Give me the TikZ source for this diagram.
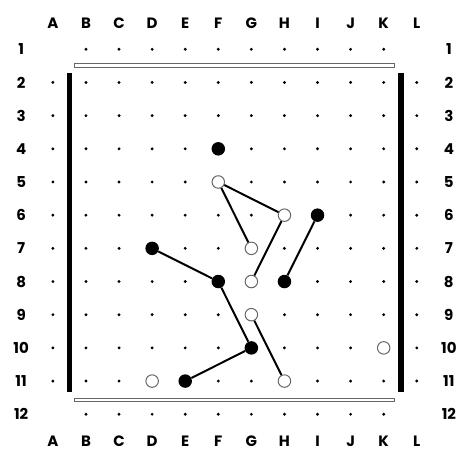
\documentclass[tikz,border=0pt]{standalone}
\usepackage{fontspec}
\newfontfamily\boardfont{Poppins}
\usepackage{tikz}

\begin{document}
\begin{tikzpicture}[x=33.08pt, y=-33.18pt,
    blackstone/.style={circle, fill=black, inner sep=0pt, minimum size=13.5pt},
    whitestone/.style={circle, fill=white, draw=black!60, line width=1pt, inner sep=0pt, minimum size=12.5pt},
    coordlabel/.style={inner sep=0pt, font=\boardfont\bfseries\fontsize{15}{17}\selectfont},
    edgeline/.style={draw=black, line width=2pt},
    rail/.style={draw=black!60, fill=white, line width=1.1pt}]
    \useasboundingbox (-0.599,-0.485) rectangle (13.428,13.077);
    % column letters and row numbers
    \foreach \l [count=\c] in {A,B,C,D,E,F,G,H,I,J,K,L} {
      \node[coordlabel] (top\l) at (\c,0.217) {\l};
      \node[coordlabel] (bot\l) at (\c,12.8) {\l};
    }
    \foreach \r in {1,...,12} {
      \node[coordlabel] (left\r) at (0.04,\r) {\r};
      \node[coordlabel] (right\r) at (12.97,\r) {\r};
    }
    % grid points
    \foreach \r in {2,...,11}
      \foreach \c in {1,...,12}
        \fill (\c,\r) circle (1.6pt);
    \foreach \r in {1,12}
      \foreach \c in {2,...,11}
        \fill (\c,\r) circle (1.6pt);
    % edges of the board
    \fill ([xshift=-2.8pt]1.502,1.71) rectangle ([xshift=2.8pt]1.502,11.32);
    \fill ([xshift=-3pt]11.533,1.70) rectangle ([xshift=3pt]11.533,11.32);
    \draw[rail] ([yshift=1.7pt]1.648,1.489) rectangle ([yshift=-1.7pt]11.321,1.489);
    \draw[rail] ([yshift=1.7pt]1.648,11.564) rectangle ([yshift=-1.7pt]11.321,11.564);
    % stones
    \node[blackstone] (F4) at (6,4) {};
    \node[blackstone] (I6) at (9,6) {};
    \node[blackstone] (D7) at (4,7) {};
    \node[blackstone] (F8) at (6,8) {};
    \node[blackstone] (H8) at (8,8) {};
    \node[blackstone] (G10) at (7,10) {};
    \node[blackstone] (E11) at (5,11) {};
    \node[whitestone] (F5) at (6,5) {};
    \node[whitestone] (H6) at (8,6) {};
    \node[whitestone] (G7) at (7,7) {};
    \node[whitestone] (G8) at (7,8) {};
    \node[whitestone] (G9) at (7,9) {};
    \node[whitestone] (K10) at (11,10) {};
    \node[whitestone] (D11) at (4,11) {};
    \node[whitestone] (H11) at (8,11) {};
    \path[edgeline]
      (F5) edge (H6)
      (F5) edge (G7)
      (H6) edge (G8)
      (I6) edge (H8)
      (D7) edge (F8)
      (F8) edge (G10)
      (G10) edge (E11)
      (G9) edge (H11);
  \end{tikzpicture}
\end{document}
